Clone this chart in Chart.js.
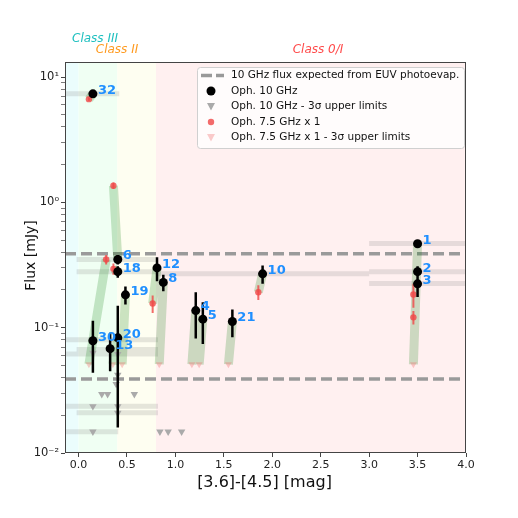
<!DOCTYPE html>
<html>
<head>
<meta charset="utf-8">
<script src="https://cdn.jsdelivr.net/npm/chart.js@4.4.1/dist/chart.umd.min.js"></script>
<style>
  html, body { margin: 0; padding: 0; background: #fff; }
  #wrap { width: 518px; height: 518px; }
</style>
</head>
<body>
<div id="wrap"><canvas id="chart"></canvas></div>
<script>
// tick labels
const xTicks = [0, 0.5, 1.0, 1.5, 2.0, 2.5, 3.0, 3.5, 4.0];
const yMajor = [0.01, 0.1, 1, 10];
const yMajorLabels = ["10\u207B\u00B2", "10\u207B\u00B9", "10\u2070", "10\u00B9"];

// class boundaries in [3.6]-[4.5]
const classStart = [-0.14, 0.0, 0.4, 0.8];
const classEnd = [0.0, 0.4, 0.8, 4.0];

// EUV photoevaporation expectation (mJy)
const euvLevels = [0.39, 0.039];

// Oph. 10 GHz detections
const detIds = ["32", "6", "18", "19", "12", "8", "4", "5", "21", "10", "1", "2", "3", "30", "13", "20"];
const detX = [0.148, 0.405, 0.405, 0.484, 0.81, 0.875, 1.21, 1.283, 1.588, 1.90, 3.50, 3.50, 3.50, 0.148, 0.326, 0.405];
const detFlux = [7.35, 0.35, 0.28, 0.183, 0.30, 0.23, 0.137, 0.117, 0.112, 0.269, 0.468, 0.28, 0.224, 0.0787, 0.068, 0.083];
const detErr = [0.3, 0.03, 0.03, 0.03, 0.065, 0.035, 0.055, 0.043, 0.028, 0.045, 0.02, 0.03, 0.048, 0.035, 0.023, 0.067];

// Oph. 10 GHz 3 sigma upper limits
const ulX = [0.148, 0.405, 0.405, 0.388, 0.24, 0.30, 0.576, 0.148, 0.405, 0.405, 0.148, 0.84, 0.925, 1.064];
const ulFlux = [0.0628, 0.0616, 0.042, 0.0355, 0.0295, 0.0295, 0.0295, 0.0236, 0.0236, 0.0209, 0.0148, 0.0148, 0.0148, 0.0148];

// Oph. 7.5 GHz detections
const lowX = [0.107, 0.36, 0.285, 0.36, 0.765, 1.856, 3.457, 3.457];
const lowFlux = [6.67, 1.36, 0.35, 0.295, 0.156, 0.192, 0.184, 0.121];
const lowErr = [0.2, 0.08, 0.03, 0.03, 0.025, 0.026, 0.04, 0.015];

// Oph. 7.5 GHz 3 sigma upper limits
const lowUlX = [0.107, 0.354, 0.45, 0.833, 1.17, 1.245, 1.547, 3.457];
const lowUlFlux = [0.051, 0.051, 0.051, 0.051, 0.051, 0.051, 0.051, 0.051];

// spectral links between 10 GHz and 7.5 GHz values
const linkX0 = [0.148, 0.405, 0.285, 0.405, 0.484, 0.81, 0.875, 1.21, 1.283, 1.588, 1.90, 3.50, 0.148, 0.405];
const linkF0 = [7.35, 0.35, 0.35, 0.28, 0.183, 0.30, 0.23, 0.137, 0.117, 0.112, 0.269, 0.468, 0.0787, 0.083];
const linkX1 = [0.107, 0.36, 0.107, 0.36, 0.45, 0.765, 0.833, 1.17, 1.245, 1.547, 1.856, 3.457, 0.107, 0.354];
const linkF1 = [6.67, 1.36, 0.051, 0.295, 0.051, 0.156, 0.051, 0.051, 0.051, 0.051, 0.192, 0.051, 0.051, 0.051];

// expected flux ranges per source (gray bars)
const rangeX0 = [-0.14, -0.02, -0.02, 0.8, 3.0, 3.0, 3.0, -0.14, -0.02, -0.14, -0.14, -0.02, -0.14];
const rangeX1 = [0.42, 0.8, 0.8, 3.0, 4.0, 4.0, 4.0, 0.82, 0.82, 0.82, 0.82, 0.82, 0.41];
const rangeFlux = [7.35, 0.35, 0.28, 0.27, 0.47, 0.28, 0.225, 0.080, 0.067, 0.0617, 0.0236, 0.021, 0.0148];

function segments(x0, y0, x1, y1) {
    const pts = [];
    x0.forEach((_, i) => {
        pts.push({ x: x0[i], y: y0[i] }, { x: x1[i], y: y1[i] }, { x: x1[i], y: null });
    });
    return pts;
}

function points(xs, ys) {
    return xs.map((x, i) => ({ x, y: ys[i] }));
}

const FONT = "'DejaVu Sans', sans-serif";

const decorPlugin = {
    id: "decor",
    beforeDatasetsDraw(chart) {
        const { ctx, chartArea: a, scales: { x } } = chart;
        const colors = ["#ebfdfd", "#f0fff3", "#fefef1", "#fff0f0"];
        ctx.save();
        classStart.forEach((s, i) => {
            const p0 = Math.max(a.left, x.getPixelForValue(s));
            const p1 = Math.min(a.right, x.getPixelForValue(classEnd[i]));
            ctx.fillStyle = colors[i];
            ctx.fillRect(p0, a.top, p1 - p0, a.bottom - a.top);
        });
        ctx.restore();
    },
    afterDatasetsDraw(chart) {
        const { ctx, chartArea: a, scales: { x, y } } = chart;
        ctx.save();
        // source labels
        ctx.font = "bold 13px " + FONT;
        ctx.fillStyle = "#1f8fff";
        ctx.textAlign = "left";
        ctx.textBaseline = "middle";
        detIds.forEach((id, i) => {
            ctx.fillText(id, x.getPixelForValue(detX[i]) + 5, y.getPixelForValue(detFlux[i]) - 3.5);
        });
        // frame
        ctx.strokeStyle = "#444";
        ctx.lineWidth = 1;
        ctx.strokeRect(a.left + 0.5, a.top + 0.5, a.right - a.left - 1, a.bottom - a.top - 1);

        // class labels
        ctx.font = "italic 12px " + FONT;
        ctx.textAlign = "center";
        ctx.fillStyle = "#1cbfbf";
        ctx.fillText("Class III", 95, 39);
        ctx.fillStyle = "#ff9a1f";
        ctx.fillText("Class II", 117, 50);
        ctx.fillStyle = "#ff4a4a";
        ctx.fillText("Class 0/I", 318, 50);

        // axis titles
        ctx.fillStyle = "#111";
        ctx.font = "16px " + FONT;
        ctx.fillText("[3.6]-[4.5] [mag]", (a.left + a.right) / 2 - 1, 483);
        ctx.save();
        ctx.translate(31, (a.top + a.bottom) / 2 - 2);
        ctx.rotate(-Math.PI / 2);
        ctx.font = "14px " + FONT;
        ctx.fillText("Flux [mJy]", 0, 0);
        ctx.restore();

        // legend
        const lx = 197, ly = 67, lw = 267, lh = 81;
        ctx.beginPath();
        ctx.roundRect(lx + 0.5, ly + 0.5, lw, lh, 3);
        ctx.fillStyle = "rgba(255,255,255,0.8)";
        ctx.fill();
        ctx.strokeStyle = "#d0d0d0";
        ctx.stroke();
        const rows = [
            "10 GHz flux expected from EUV photoevap.",
            "Oph. 10 GHz",
            "Oph. 10 GHz - 3\u03C3 upper limits",
            "Oph. 7.5 GHz x 1",
            "Oph. 7.5 GHz x 1 - 3\u03C3 upper limits"
        ];
        ctx.font = "10.5px " + FONT;
        ctx.textAlign = "left";
        rows.forEach((t, i) => {
            const ry = 75.5 + i * 15.5;
            ctx.fillStyle = "#111";
            ctx.fillText(t, 231, ry);
            const mx = 211;
            if (i === 0) {
                ctx.strokeStyle = "#999";
                ctx.lineWidth = 3.5;
                ctx.setLineDash([11, 4]);
                ctx.beginPath();
                ctx.moveTo(201, ry);
                ctx.lineTo(224, ry);
                ctx.stroke();
                ctx.setLineDash([]);
            } else if (i === 1) {
                ctx.fillStyle = "#000";
                ctx.beginPath(); ctx.arc(mx, ry, 4.5, 0, Math.PI * 2); ctx.fill();
            } else if (i === 3) {
                ctx.fillStyle = "rgba(240,70,70,0.8)";
                ctx.beginPath(); ctx.arc(mx, ry, 3.2, 0, Math.PI * 2); ctx.fill();
            } else {
                ctx.fillStyle = i === 2 ? "#aaaaaa" : "rgba(240,110,110,0.35)";
                ctx.beginPath();
                ctx.moveTo(mx - 4, ry - 3.5);
                ctx.lineTo(mx + 4, ry - 3.5);
                ctx.lineTo(mx, ry + 4);
                ctx.closePath();
                ctx.fill();
            }
        });
        ctx.restore();
    }
};

const yAllTicks = [];
[0.01, 0.1, 1, 10].forEach(d => {
    for (let m = 1; m <= 9; m++) {
        const v = +(m * d).toPrecision(3);
        if (v <= 13.2) yAllTicks.push(v);
    }
});
const isMajor = v => yMajor.some(m => Math.abs(m - v) < 1e-9);

new Chart(document.getElementById("chart"), {
    type: "scatter",
    data: {
        datasets: [
            {
                type: "line",
                data: points(detX, detFlux),
                showLine: false,
                pointStyle: "circle",
                pointRadius: 4.5,
                pointBackgroundColor: "#000",
                pointBorderWidth: 0,
                order: 1
            },
            {
                type: "line",
                data: segments(detX, detX.map((x, i) => detFlux[i] - detErr[i]), detX, detX.map((x, i) => detFlux[i] + detErr[i])),
                borderColor: "#000",
                borderWidth: 2.5,
                pointRadius: 0,
                spanGaps: false,
                order: 2
            },
            {
                type: "line",
                data: points(lowX, lowFlux),
                showLine: false,
                pointStyle: "circle",
                pointRadius: 3.2,
                pointBackgroundColor: "rgba(240,70,70,0.8)",
                pointBorderWidth: 0,
                order: 3
            },
            {
                type: "line",
                data: segments(lowX, lowX.map((x, i) => lowFlux[i] - lowErr[i]), lowX, lowX.map((x, i) => lowFlux[i] + lowErr[i])),
                borderColor: "rgba(240,70,70,0.8)",
                borderWidth: 2,
                pointRadius: 0,
                spanGaps: false,
                order: 4
            },
            {
                type: "line",
                data: points(ulX, ulFlux),
                showLine: false,
                pointStyle: "triangle",
                rotation: 180,
                pointRadius: 4.3,
                pointBackgroundColor: "#aaaaaa",
                pointBorderWidth: 0,
                order: 5
            },
            {
                type: "line",
                data: points(lowUlX, lowUlFlux),
                showLine: false,
                pointStyle: "triangle",
                rotation: 180,
                pointRadius: 4,
                pointBackgroundColor: "rgba(240,110,110,0.35)",
                pointBorderWidth: 0,
                order: 6
            },
            {
                type: "line",
                data: segments(linkX0, linkF0, linkX1, linkF1),
                borderColor: "rgba(0,120,0,0.2)",
                borderWidth: 9,
                borderCapStyle: "butt",
                pointRadius: 0,
                spanGaps: false,
                order: 7
            },
            {
                type: "line",
                data: segments(euvLevels.map(() => -0.14), euvLevels, euvLevels.map(() => 4.0), euvLevels),
                borderColor: "#9a9a9a",
                borderWidth: 3.5,
                borderDash: [11, 5],
                borderCapStyle: "butt",
                pointRadius: 0,
                spanGaps: false,
                order: 8
            },
            {
                type: "line",
                data: segments(rangeX0, rangeFlux, rangeX1, rangeFlux),
                borderColor: "rgba(128,128,128,0.2)",
                borderWidth: 5,
                borderCapStyle: "butt",
                pointRadius: 0,
                spanGaps: false,
                order: 9
            }
        ]
    },
    options: {
        responsive: true,
        maintainAspectRatio: false,
        animation: false,
        events: [],
        layout: { padding: { top: 62, right: 52, left: 0, bottom: 0 } },
        plugins: { legend: { display: false }, tooltip: { enabled: false } },
        scales: {
            x: {
                type: "linear",
                min: -0.14,
                max: 4.0,
                afterBuildTicks: s => { s.ticks = xTicks.map(v => ({ value: v })); },
                afterFit: s => { s.height = 65; },
                ticks: {
                    callback: v => v.toFixed(1),
                    font: { family: FONT, size: 11 },
                    color: "#222",
                    padding: 2
                },
                grid: { drawOnChartArea: false, tickLength: 4, color: "#444" },
                border: { display: false }
            },
            y: {
                type: "logarithmic",
                min: 0.01,
                max: 13.2,
                afterBuildTicks: s => { s.ticks = yAllTicks.map(v => ({ value: v })); },
                afterFit: s => { s.width = 65; },
                ticks: {
                    autoSkip: false,
                    callback: v => {
                        const k = yMajor.findIndex(m => Math.abs(m - v) < 1e-9);
                        return k >= 0 ? yMajorLabels[k] : "";
                    },
                    font: { family: FONT, size: 11.5 },
                    color: "#222",
                    padding: 2
                },
                grid: {
                    drawOnChartArea: false,
                    tickLength: 4,
                    color: "#444",
                    tickWidth: c => (c.tick && isMajor(c.tick.value) ? 1 : 0.7)
                },
                border: { display: false }
            }
        }
    },
    plugins: [decorPlugin]
});
</script>
</body>
</html>
